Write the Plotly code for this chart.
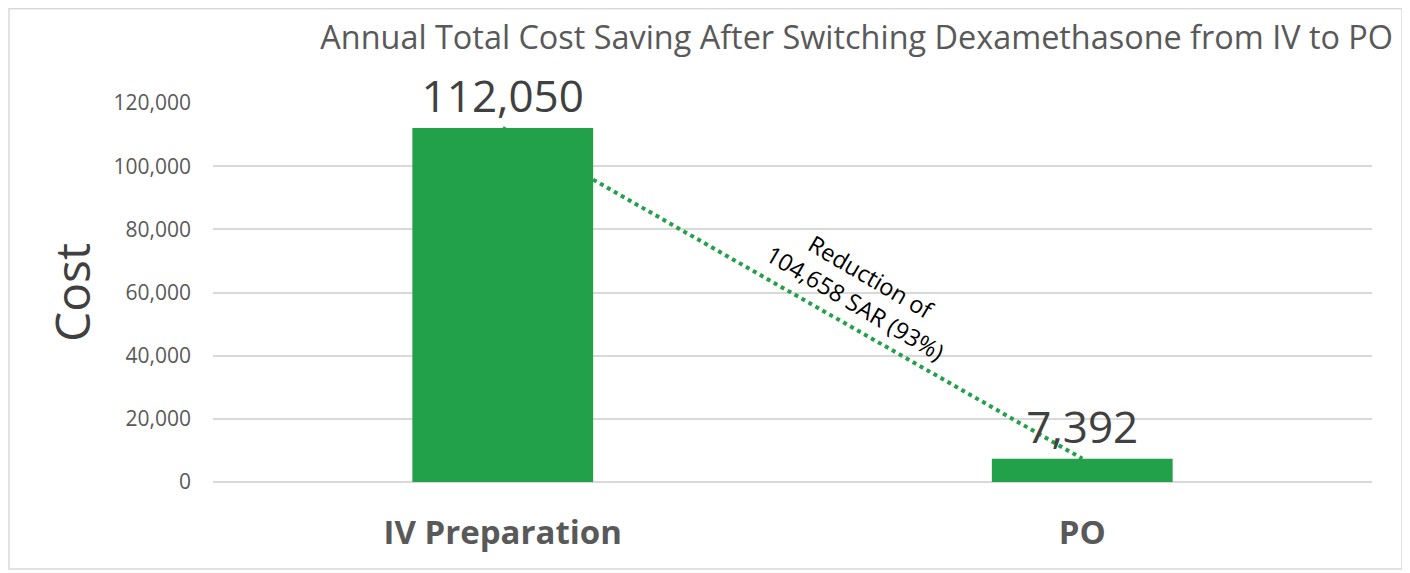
import plotly.graph_objects as go

categories = ["IV Preparation", "PO"]
costs = [112050, 7392]
cost_labels = ["112,050", "7,392"]
y_ticks = [0, 20000, 40000, 60000, 80000, 100000, 120000]
y_tick_labels = ["0", "20,000", "40,000", "60,000", "80,000", "100,000", "120,000"]
title_text = "Annual Total Cost Saving After Switching Dexamethasone from IV to PO"
reduction_text = "Reduction of<br>104,658 SAR (93%)"

GREEN = "#23a04a"
FONT = "Open Sans"

fig = go.Figure()
fig.add_trace(go.Bar(
    x=categories, y=costs, width=0.312,
    marker=dict(color=GREEN, line=dict(width=0)),
    text=cost_labels, textposition="outside", cliponaxis=False,
    constraintext="none",
    textfont=dict(family=FONT, size=44, color="#404040"),
    hoverinfo="skip",
))

# dotted connector between bar tops (drawn beneath bars)
fig.add_shape(type="line", xref="x", yref="y",
              x0=categories[0], y0=costs[0], x1=categories[1], y1=costs[1],
              line=dict(color=GREEN, width=4, dash="dot"), layer="between")

# outer chart border
fig.add_shape(type="rect", xref="paper", yref="paper",
              x0=-0.1760, x1=1.0259, y0=-0.2296, y1=1.2489,
              line=dict(color="#d9d9d9", width=1.5), layer="below")

fig.add_annotation(text=reduction_text, xref="paper", yref="paper",
                   x=0.560, y=0.5066, showarrow=False, textangle=30.5,
                   font=dict(family=FONT, size=23.5, color="#000000"),
                   align="center")

fig.update_layout(
    width=1410, height=573,
    margin=dict(l=205, r=46, t=95, b=99),
    paper_bgcolor="white", plot_bgcolor="white",
    showlegend=False,
    title=dict(text=title_text, x=0.9823, xanchor="right", y=0.9476, yanchor="middle",
               font=dict(family=FONT, size=32.4, color="#595959")),
    xaxis=dict(type="category", showgrid=False, showline=False, zeroline=False,
               ticks="", ticklabelstandoff=28,
               tickfont=dict(family=FONT, size=33, color="#595959", weight="bold")),
    yaxis=dict(range=[0, 120000], tickvals=y_ticks, ticktext=y_tick_labels,
               showgrid=True, gridcolor="#d9d9d9", gridwidth=1.5,
               zeroline=True, zerolinecolor="#d9d9d9", zerolinewidth=1.5,
               showline=False, ticks="", ticklabelstandoff=21,
               tickfont=dict(family=FONT, size=21, color="#595959"),
               title=dict(text="Cost", standoff=7,
                          font=dict(family=FONT, size=48, color="#404040"))),
)

fig.write_html("out.html")
